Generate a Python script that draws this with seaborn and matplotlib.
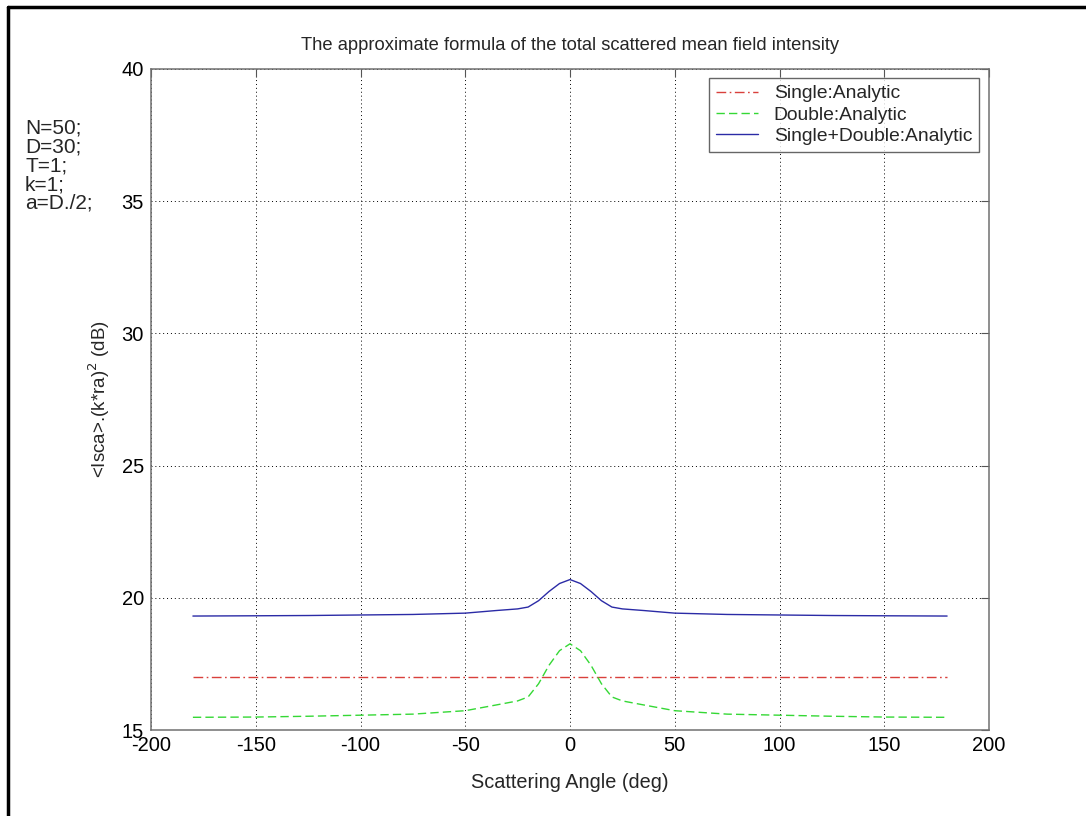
import numpy as np
import pandas as pd
import matplotlib
matplotlib.use("Agg")
import matplotlib.pyplot as plt
import seaborn as sns
from matplotlib.lines import Line2D

# ---- data ----
angles = [-180, -150, -125, -100, -75, -50, -35, -25, -20, -15, -10, -5, 0,
          5, 10, 15, 20, 25, 35, 50, 75, 100, 125, 150, 180]
single = [17.0] * len(angles)
double = [15.48, 15.49, 15.52, 15.56, 15.60, 15.73, 15.95, 16.10, 16.25, 16.75, 17.45, 18.00, 18.26,
          18.00, 17.45, 16.75, 16.25, 16.10, 15.95, 15.73, 15.60, 15.56, 15.52, 15.49, 15.48]
total = [19.31, 19.32, 19.33, 19.35, 19.37, 19.42, 19.52, 19.58, 19.65, 19.89, 20.24, 20.54, 20.69,
         20.54, 20.24, 19.89, 19.65, 19.58, 19.52, 19.42, 19.37, 19.35, 19.33, 19.32, 19.31]
series_names = ["Single:Analytic", "Double:Analytic", "Single+Double:Analytic"]
x_ticks = [-200, -150, -100, -50, 0, 50, 100, 150, 200]
y_ticks = [15, 20, 25, 30, 35, 40]
params_text = ["N=50;", "D=30;", "T=1;", "k=1;", "a=D./2;"]

df = pd.DataFrame({"angle": angles, "single": single, "double": double, "total": total})

sns.set_theme(style="white")
plt.rcParams["font.family"] = ["Liberation Sans", "DejaVu Sans"]
plt.rcParams["axes.unicode_minus"] = False

fig = plt.figure(figsize=(10.86, 8.16), dpi=100)
ax = fig.add_axes([151 / 1086, 1 - 730 / 816, (989 - 151) / 1086, (730 - 69) / 816])

sns.lineplot(data=df, x="angle", y="single", ax=ax, color="#d9403c", lw=1.0,
             label=series_names[0])
sns.lineplot(data=df, x="angle", y="double", ax=ax, color="#35d835", lw=1.0,
             label=series_names[1])
sns.lineplot(data=df, x="angle", y="total", ax=ax, color="#2b2ba6", lw=1.0,
             label=series_names[2])
lines = ax.get_lines()
lines[0].set_dashes([7, 2.5, 1.2, 2.5])
lines[1].set_dashes([6, 3])

ax.set_xlim(-200, 200)
ax.set_ylim(15, 40)
ax.set_xticks(x_ticks)
ax.set_yticks(y_ticks)
ax.tick_params(axis="both", which="both", direction="in", length=6, width=0.8,
               labelcolor="#000000", color="#555555", labelsize=14.5,
               top=True, right=True, labeltop=False, labelright=False, pad=4)
ax.tick_params(axis="y", pad=5)
for s in ax.spines.values():
    s.set_color("#707070")
    s.set_linewidth(1.1)
ax.grid(True, color="#000000", linestyle=(0, (1, 3)), linewidth=0.7)

ax.set_xlabel("Scattering Angle (deg)", fontsize=14.3, labelpad=13)
ax.set_ylabel(r"<Isca>.(k*ra)$^2$ (dB)", fontsize=13.5, labelpad=7)
ax.set_title("The approximate formula of the total scattered mean field intensity",
             fontsize=13.2, pad=14)

leg = ax.legend(loc="upper right", bbox_to_anchor=(979 / 1086, 1 - 78 / 816),
                bbox_transform=fig.transFigure, fontsize=13.9, frameon=True,
                fancybox=False, handlelength=2.2, borderpad=0.35, labelspacing=0.2,
                handletextpad=0.8, borderaxespad=0)
leg.get_frame().set_edgecolor("#404040")
leg.get_frame().set_linewidth(1.0)

fig.text(25 / 1086, 1 - 119 / 816, "\n".join(params_text), fontsize=15,
         va="top", ha="left", linespacing=0.98)

# figure border (top and left)
fig.add_artist(Line2D([8 / 1086, 8 / 1086], [0, 1 - 7 / 816], transform=fig.transFigure,
                      color="black", lw=2.5))
fig.add_artist(Line2D([8 / 1086, 1], [1 - 7 / 816, 1 - 7 / 816], transform=fig.transFigure,
                      color="black", lw=2.5))

fig.savefig("out.png", dpi=100)
